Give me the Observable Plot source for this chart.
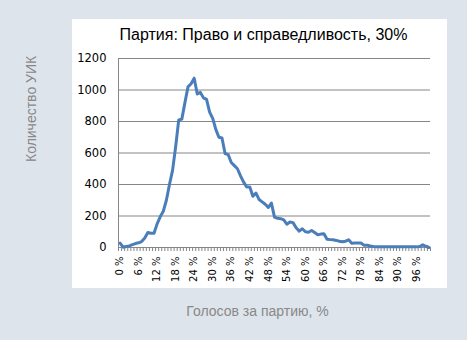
<!DOCTYPE html>
<html><head><meta charset="utf-8">
<script src="https://cdn.jsdelivr.net/npm/d3@7"></script>
<script src="https://cdn.jsdelivr.net/npm/@observablehq/plot@0.6"></script>
<style>
html,body{margin:0;padding:0;background:#dee4ec;width:467px;height:340px;overflow:hidden;position:relative}
#panel{position:absolute;left:72px;top:19px;width:375px;height:269px;background:#fff}
#title{position:absolute;left:0;top:27px;width:527px;text-align:center;font:16px "Liberation Sans",Arial,sans-serif;line-height:16px;color:#000}
#chart{position:absolute;left:0;top:0}
</style></head>
<body>
<div id="panel"></div>
<div id="title">Партия: Право и справедливость, 30%</div>
<div id="chart"></div>
<script>
const titleText = "Партия: Право и справедливость, 30%";
const yTitle = "Количество УИК";
const xTitle = "Голосов за партию, %";
// percent of votes for the party (category), 0..100
const percents = d3.range(0, 101);
// number of polling stations (УИК) for each percent
const counts = [
  28, 2, 6, 10, 18, 25, 30, 38, 60, 95,
  90, 90, 150, 195, 230, 300, 400, 490, 640, 810,
  815, 920, 1020, 1040, 1075, 975, 985, 950, 940, 860,
  820, 750, 700, 695, 597, 590, 540, 520, 500, 455,
  415, 384, 384, 325, 345, 305, 290, 275, 255, 282,
  193, 185, 183, 175, 148, 162, 158, 125, 104, 119,
  100, 97, 108, 95, 81, 85, 87, 52, 50, 49,
  45, 40, 36, 40, 49, 27, 28, 28, 28, 15,
  15, 10, 7, 5, 5, 5, 5, 5, 5, 4,
  4, 4, 4, 4, 4, 4, 4, 6, 17, 8,
  0
];
const yTicks = [0, 200, 400, 600, 800, 1000, 1200];
const xLabelTicks = [0, 6, 12, 18, 24, 30, 36, 42, 48, 54, 60, 66, 72, 78, 84, 90, 96];
const xTickMarks = d3.range(-0.5, 101, 1);

const data = percents.map((p, i) => ({p, n: counts[i]}));
const grid = "#868686";

const chart = Plot.plot({
  width: 467, height: 340,
  marginLeft: 118, marginRight: 37, marginTop: 58, marginBottom: 93,
  style: {background: "transparent", fontFamily: "DejaVu Sans, Verdana, sans-serif", fontSize: "10.5px", color: "#000", overflow: "visible"},
  x: {domain: [-0.5, 100.5]},
  y: {domain: [0, 1200]},
  marks: [
    Plot.gridY(yTicks, {stroke: grid, strokeOpacity: 1}),
    Plot.ruleX([-0.5], {stroke: grid}),
    Plot.axisY({ticks: yTicks, tickSize: 0, tickPadding: 12, tickFormat: d3.format("d"), fontSize: 11.5, label: null}),
    Plot.axisX({ticks: xTickMarks, tickSize: 4, tickFormat: () => "", stroke: grid, label: null}),
    Plot.axisX({ticks: xLabelTicks, tickSize: 0, tickPadding: 9, tickRotate: -90, tickFormat: d => d + " %", fontSize: 10, label: null}),
    Plot.line(data, {x: "p", y: "n", stroke: "#4a7ebb", strokeWidth: 3, strokeLinejoin: "round"}),
    Plot.text([yTitle], {frameAnchor: "left", dx: -87, dy: 9, rotate: -90, fill: "#888", fontSize: 14, fontFamily: "Liberation Sans, Arial, sans-serif"}),
    Plot.text([xTitle], {frameAnchor: "bottom", dx: -17, dy: 68, fill: "#888", fontSize: 14, fontFamily: "Liberation Sans, Arial, sans-serif"})
  ]
});
document.getElementById("chart").appendChild(chart);
</script>
</body></html>
